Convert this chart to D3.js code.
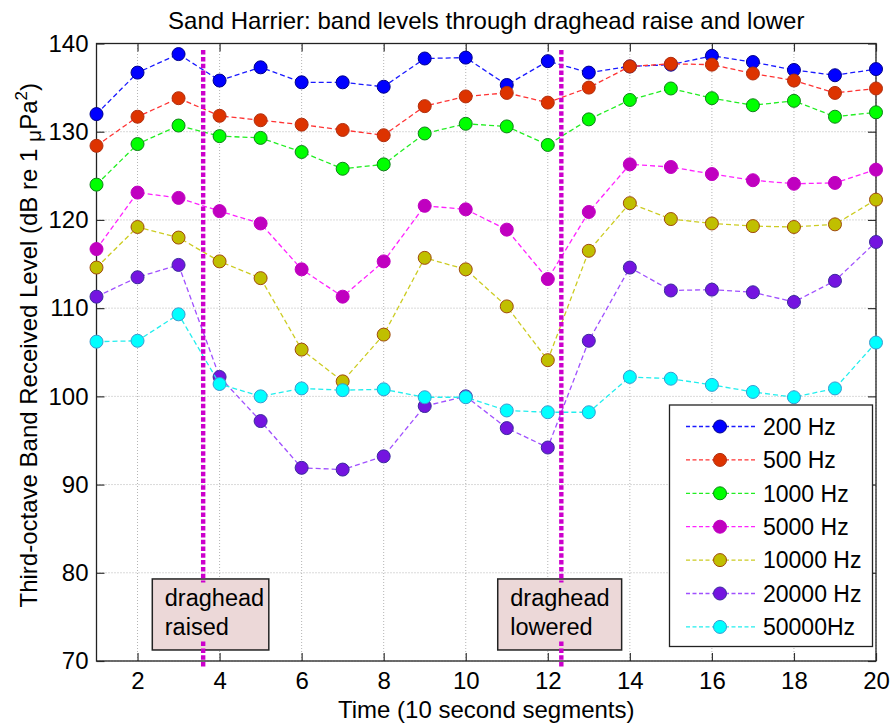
<!DOCTYPE html>
<html>
<head>
<meta charset="utf-8">
<script src="https://cdn.jsdelivr.net/npm/d3@7"></script>
<style>
  html, body { margin: 0; padding: 0; background: #fff; }
  svg { display: block; font-family: "Liberation Sans", Arial, Helvetica, sans-serif; }
</style>
</head>
<body>
<svg id="chart" width="892" height="727"></svg>
<script>
// Time segments (10 s each)
const segments = d3.range(1, 21);

// Third-octave band received levels, dB re 1 µPa², one array per band
const hz200   = [132.0, 136.7, 138.8, 135.8, 137.3, 135.6, 135.6, 135.1, 138.3, 138.4, 135.3, 138.0, 136.7, 137.4, 137.6, 138.6, 137.9, 137.0, 136.4, 137.1];
const hz500   = [128.4, 131.7, 133.8, 131.8, 131.3, 130.8, 130.2, 129.6, 132.9, 134.0, 134.4, 133.3, 135.0, 137.4, 137.7, 137.6, 136.6, 135.8, 134.4, 134.9];
const hz1000  = [124.0, 128.6, 130.7, 129.5, 129.3, 127.7, 125.8, 126.3, 129.8, 130.9, 130.6, 128.5, 131.4, 133.6, 134.9, 133.8, 133.0, 133.5, 131.7, 132.2];
const hz5000  = [116.7, 123.1, 122.5, 121.0, 119.6, 114.4, 111.3, 115.3, 121.6, 121.2, 118.9, 113.3, 120.9, 126.3, 126.0, 125.2, 124.5, 124.1, 124.2, 125.7];
const hz10000 = [114.6, 119.2, 118.0, 115.3, 113.4, 105.3, 101.7, 107.0, 115.7, 114.4, 110.2, 104.1, 116.5, 121.9, 120.1, 119.6, 119.3, 119.2, 119.5, 122.3];
const hz20000 = [111.3, 113.5, 114.9, 102.2, 97.2, 91.9, 91.7, 93.2, 98.9, 100.0, 96.4, 94.2, 106.3, 114.6, 112.0, 112.1, 111.8, 110.7, 113.1, 117.5];
const hz50000 = [106.2, 106.3, 109.3, 101.4, 100.0, 100.9, 100.7, 100.8, 99.9, 99.9, 98.4, 98.2, 98.2, 102.2, 102.0, 101.3, 100.5, 99.9, 100.9, 106.1];

const bandLabels = ["200 Hz", "500 Hz", "1000 Hz", "5000 Hz", "10000 Hz", "20000 Hz", "50000Hz"];
const bandValues = [hz200, hz500, hz1000, hz5000, hz10000, hz20000, hz50000];

// line colour, marker fill, marker edge
const lineColors   = ["#1a1aff", "#ff3333", "#22ee22", "#ff22ff", "#cccc22", "#a050ff", "#22eeee"];
const markerFills  = ["#0000ff", "#dd3300", "#00ff00", "#c000c0", "#c0bf00", "#7414e0", "#00ffff"];
const markerEdges  = ["#00008a", "#b03010", "#10801a", "#c000c0", "#a04a10", "#3a2a9c", "#3a9ad0"];

const xTicks = d3.range(2, 21, 2);
const yTicks = d3.range(70, 141, 10);

// Dredge events marked on the time axis
const eventTimes  = [3.6, 12.33];
const eventLabels = [["draghead", "raised"], ["draghead", "lowered"]];
const eventBoxX   = [[2.36, 5.2], [10.78, 13.8]];

const svg = d3.select("#chart");
const margin = { left: 96.5, right: 892 - 876, top: 43.5, bottom: 727 - 661 };
const W = 892, H = 727;

const x = d3.scaleLinear().domain([1, 20]).range([margin.left, W - margin.right]);
const y = d3.scaleLinear().domain([70, 140]).range([H - margin.bottom, margin.top]);

const FS = 24;      // axis text
const FS_SMALL = 23; // legend and event boxes

// grid
const grid = svg.append("g").attr("stroke", "#b4b4b4").attr("stroke-width", 1).attr("stroke-dasharray", "1,2");
grid.selectAll("line.gx").data(xTicks).join("line")
  .attr("x1", d => x(d)).attr("x2", d => x(d)).attr("y1", y(70)).attr("y2", y(140));
grid.selectAll("line.gy").data(yTicks).join("line")
  .attr("y1", d => y(d)).attr("y2", d => y(d)).attr("x1", x(1)).attr("x2", x(20));

// axes with inward ticks on all four sides
const tickLen = 8;
const axisG = svg.append("g");
axisG.append("g").attr("transform", `translate(0,${y(70)})`)
  .call(d3.axisBottom(x).tickValues(xTicks).tickSizeInner(-tickLen).tickSizeOuter(0).tickPadding(11));
axisG.append("g").attr("transform", `translate(0,${y(140)})`)
  .call(d3.axisTop(x).tickValues(xTicks).tickSizeInner(-tickLen).tickSizeOuter(0).tickFormat(""));
axisG.append("g").attr("transform", `translate(${x(1)},0)`)
  .call(d3.axisLeft(y).tickValues(yTicks).tickSizeInner(-tickLen).tickSizeOuter(0).tickPadding(8));
axisG.append("g").attr("transform", `translate(${x(20)},0)`)
  .call(d3.axisRight(y).tickValues(yTicks).tickSizeInner(-tickLen).tickSizeOuter(0).tickFormat(""));
axisG.selectAll(".domain").remove();
axisG.selectAll(".tick line").attr("stroke", "#333").attr("stroke-width", 1.2);
axisG.selectAll(".tick text").attr("font-size", FS).attr("fill", "#000")
  .attr("font-family", "'Liberation Sans', Arial, sans-serif");
svg.append("rect").attr("x", x(1)).attr("y", y(140)).attr("width", x(20) - x(1)).attr("height", y(70) - y(140))
  .attr("fill", "none").attr("stroke", "#222").attr("stroke-width", 1.3);

// series
const line = d3.line().x((d, i) => x(segments[i])).y(d => y(d));
bandValues.forEach((vals, k) => {
  const g = svg.append("g");
  g.append("path").datum(vals).attr("d", line).attr("fill", "none")
    .attr("stroke", lineColors[k]).attr("stroke-width", 1.3).attr("stroke-dasharray", "5,3");
  g.selectAll("circle").data(vals).join("circle")
    .attr("cx", (d, i) => x(segments[i])).attr("cy", d => y(d)).attr("r", 6.5)
    .attr("fill", markerFills[k]).attr("stroke", markerEdges[k]).attr("stroke-width", 1);
});

// event boxes and dashed markers
eventTimes.forEach((t, k) => {
  const [b0, b1] = eventBoxX[k];
  const ev = svg.append("g");
  ev.append("rect").attr("x", x(b0)).attr("y", y(79.3)).attr("width", x(b1) - x(b0)).attr("height", y(71.25) - y(79.3))
    .attr("fill", "#ecd8d8").attr("stroke", "#222").attr("stroke-width", 1.5);
  eventLabels[k].forEach((s, j) => {
    ev.append("text").attr("x", x(b0) + 12.5).attr("y", y(79.3) + 27.5 + j * 28.5)
      .attr("font-size", FS_SMALL + 0.5).attr("fill", "#000").text(s);
  });
  [[139.25, 78.9], [72.2, 69.35]].forEach(([a, b]) => {
    ev.append("line").attr("x1", x(t)).attr("x2", x(t)).attr("y1", y(a)).attr("y2", y(b))
      .attr("stroke", "#cc00cc").attr("stroke-width", 4.4).attr("stroke-dasharray", "4.5,2.3");
  });
});

// legend
const lg = svg.append("g");
lg.append("rect").attr("x", 669.5).attr("y", 405).attr("width", 203).attr("height", 241.5)
  .attr("fill", "#fff").attr("stroke", "#222").attr("stroke-width", 1.3);
bandLabels.forEach((lab, k) => {
  const cy = 426.5 + k * 33.4;
  lg.append("line").attr("x1", 686).attr("x2", 756).attr("y1", cy).attr("y2", cy)
    .attr("stroke", lineColors[k]).attr("stroke-width", 1.3).attr("stroke-dasharray", "4,2.5");
  lg.append("circle").attr("cx", 720).attr("cy", cy).attr("r", 6.5)
    .attr("fill", markerFills[k]).attr("stroke", markerEdges[k]).attr("stroke-width", 1);
  lg.append("text").attr("x", 763).attr("y", cy + 8.3).attr("font-size", FS_SMALL).attr("fill", "#000").text(lab);
});

// titles
svg.append("text").attr("x", (x(1) + x(20)) / 2).attr("y", 29).attr("text-anchor", "middle")
  .attr("font-size", FS).attr("fill", "#000")
  .text("Sand Harrier: band levels through draghead raise and lower");
svg.append("text").attr("x", (x(1) + x(20)) / 2).attr("y", 718).attr("text-anchor", "middle")
  .attr("font-size", FS).attr("fill", "#000").text("Time (10 second segments)");

const yl = svg.append("text").attr("transform", `translate(37,${(y(70) + y(140)) / 2 - 7}) rotate(-90)`)
  .attr("text-anchor", "middle").attr("font-size", FS).attr("fill", "#000");
yl.append("tspan").text("Third-octave Band Received Level (dB re 1 ");
yl.append("tspan").attr("dy", 4).attr("font-size", 21).text("\u03bc");
yl.append("tspan").attr("dy", -4).text("Pa");
yl.append("tspan").attr("dy", -10).attr("font-size", 17).text("2");
yl.append("tspan").attr("dy", 10).text(")");
</script>
</body>
</html>
